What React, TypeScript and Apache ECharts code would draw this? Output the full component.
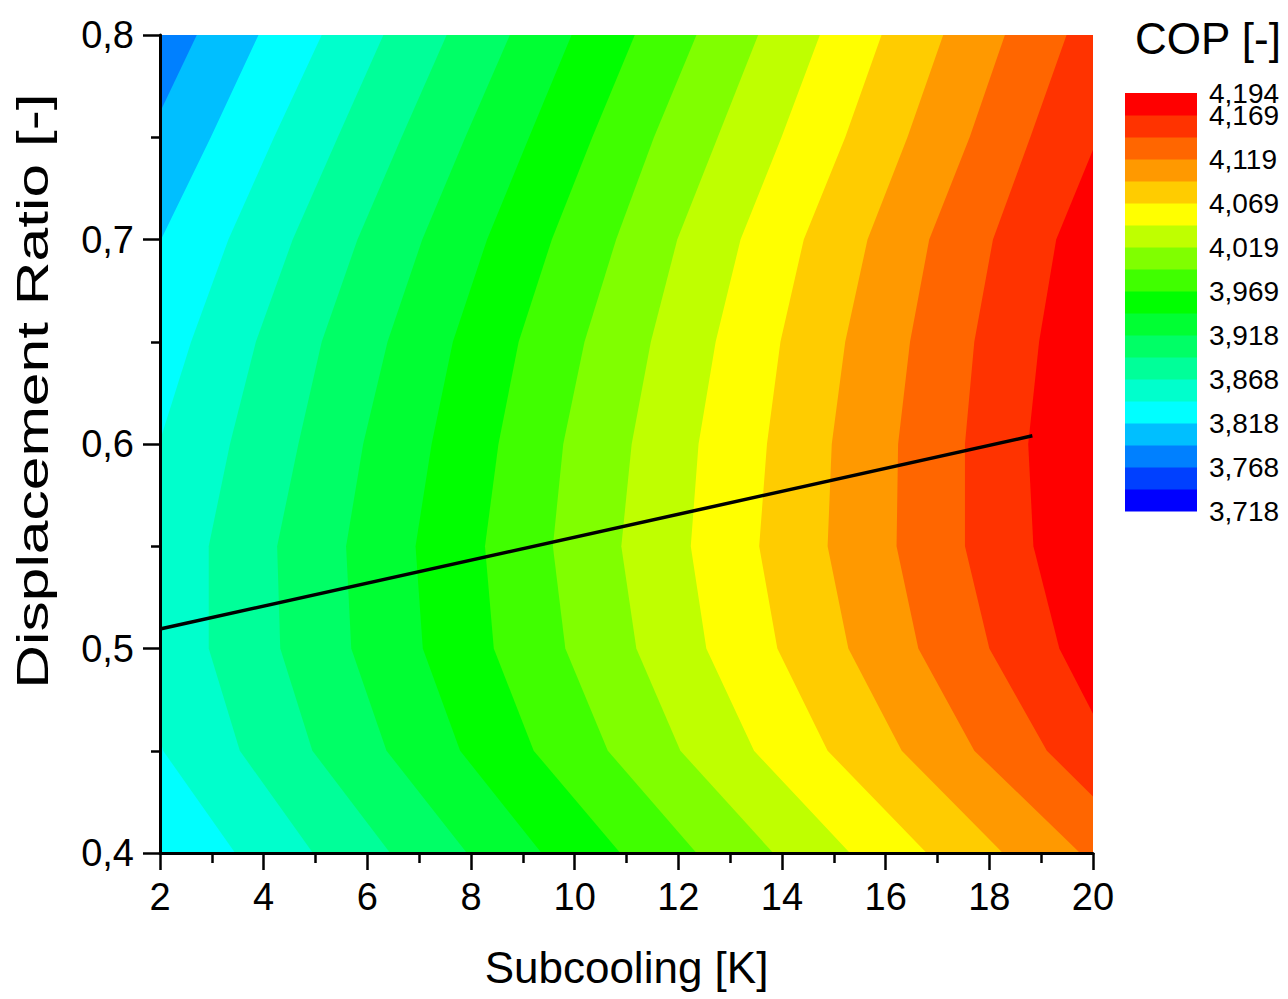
import React, { useEffect, useRef } from 'react';
import * as echarts from 'echarts';

const FONT = '"Liberation Sans", Arial, sans-serif';

// Displacement ratio rows at which the iso-COP lines were read
const rowsY = [0.8, 0.75, 0.7, 0.65, 0.6, 0.55, 0.5, 0.45, 0.4];

// COP contour levels (colour bar boundaries, bottom to top)
const levels = [3.718, 3.743, 3.768, 3.793, 3.818, 3.843, 3.868, 3.893, 3.918, 3.944, 3.969, 3.994, 4.019, 4.044, 4.069, 4.094, 4.119, 4.144, 4.169, 4.194];
const bandColors = ['#0000FF', '#0040FF', '#0080FF', '#00BFFF', '#00FFFF', '#00FFCC', '#00FF99', '#00FF66', '#00FF33', '#00FF00', '#40FF00', '#80FF00', '#BFFF00', '#FFFF00', '#FFCC00', '#FF9900', '#FF6600', '#FF3300', '#FF0000'];
const colorbarLabelIdx = [0, 2, 4, 6, 8, 10, 12, 14, 16, 18];
const colorbarTopIdx = 19;

// Subcooling [K] of each iso-COP line at rowsY (values outside 2..20 lie beyond the frame)
const iso3793 = [2.71, 1.77, 0.94, 0.26, -0.12, -0.32, -0.32, 0.07, 0.84];
const iso3818 = [3.90, 2.98, 2.02, 1.19, 0.75, 0.46, 0.46, 0.46, 1.81];
const iso3843 = [5.12, 4.20, 3.32, 2.60, 1.98, 1.61, 1.58, 2.06, 3.45];
const iso3868 = [6.31, 5.43, 4.56, 3.85, 3.35, 2.94, 2.94, 3.54, 4.95];
const iso3893 = [7.53, 6.66, 5.81, 5.12, 4.67, 4.26, 4.32, 4.94, 6.44];
const iso3918 = [8.75, 7.89, 7.06, 6.39, 5.92, 5.59, 5.69, 6.37, 7.92];
const iso3944 = [9.94, 9.12, 8.31, 7.65, 7.24, 6.93, 7.07, 7.79, 9.36];
const iso3969 = [11.16, 10.34, 9.56, 8.92, 8.53, 8.27, 8.44, 9.21, 10.88];
const iso3994 = [12.35, 11.53, 10.80, 10.19, 9.78, 9.58, 9.82, 10.64, 12.35];
const iso4019 = [13.54, 12.76, 11.98, 11.47, 11.10, 10.90, 11.19, 12.04, 13.83];
const iso4044 = [14.73, 13.99, 13.20, 12.72, 12.39, 12.24, 12.54, 13.46, 15.31];
const iso4069 = [15.92, 15.22, 14.42, 13.97, 13.71, 13.56, 13.91, 14.88, 16.79];
const iso4094 = [17.11, 16.42, 15.65, 15.22, 14.96, 14.88, 15.28, 16.31, 18.26];
const iso4119 = [18.30, 17.62, 16.84, 16.47, 16.24, 16.21, 16.63, 17.71, 19.75];
const iso4144 = [19.49, 18.79, 18.07, 17.71, 17.53, 17.53, 18.00, 19.11, 21.10];
const iso4169 = [20.75, 20.10, 19.29, 18.96, 18.75, 18.85, 19.35, 20.37, 21.87];

// contour k sits at levels[k + 3]; the band to its right gets bandColors[k + 3]
const contours = [iso3793, iso3818, iso3843, iso3868, iso3893, iso3918, iso3944, iso3969, iso3994, iso4019, iso4044, iso4069, iso4094, iso4119, iso4144, iso4169];
const baseBand = 2;

// black line
const lineX = [2, 18.83];
const lineY = [0.5095, 0.604];

const X_MIN = 2, X_MAX = 20, Y_MIN = 0.4, Y_MAX = 0.8;

function clipX(poly: number[][], lo: number, hi: number): number[][] {
  const clip = (pts: number[][], inside: (p: number[]) => boolean, xv: number) => {
    const out: number[][] = [];
    for (let i = 0; i < pts.length; i++) {
      const a = pts[i];
      const b = pts[(i + 1) % pts.length];
      const ia = inside(a), ib = inside(b);
      if (ia) out.push(a);
      if (ia !== ib) out.push([xv, a[1] + ((b[1] - a[1]) * (xv - a[0])) / (b[0] - a[0])]);
    }
    return out;
  };
  let p = clip(poly, (q) => q[0] >= lo, lo);
  p = clip(p, (q) => q[0] <= hi, hi);
  return p;
}

const fmtComma = (v: number, d: number) => v.toFixed(d).replace('.', ',');

export default function App() {
  const ref = useRef<HTMLDivElement>(null);
  useEffect(() => {
    if (!ref.current) return;
    const chart = echarts.init(ref.current, undefined, { renderer: 'svg' });

    const fieldData = [baseBand, ...contours.map((_, k) => k + 3)].map((b, i) => ({ value: [X_MIN, 0.6, i], band: b }));
    const barData = bandColors.map((_, i) => ({ value: [0, i + 0.5, i] }));

    const cbLabel = {
      fontSize: 28,
      color: '#000',
      fontFamily: FONT,
      margin: 12,
    };

    const option: any = {
      animation: false,
      backgroundColor: '#ffffff',
      title: {
        text: 'COP [-]',
        left: 1130,
        top: 11,
        textStyle: { fontSize: 44, fontWeight: 'normal', fontFamily: FONT, color: '#000' },
      },
      grid: [
        { left: 160, top: 35, width: 933, height: 818, containLabel: false },
        { left: 1125, top: 93, width: 72, height: 418, containLabel: false },
      ],
      xAxis: [
        {
          gridIndex: 0,
          type: 'value',
          min: X_MIN,
          max: X_MAX,
          interval: 2,
          z: 5,
          axisLine: { show: true, onZero: false, lineStyle: { color: '#000', width: 3 } },
          axisTick: { show: true, length: 17, lineStyle: { color: '#000', width: 2.5 } },
          minorTick: { show: true, splitNumber: 2, length: 10, lineStyle: { color: '#000', width: 2.5 } },
          splitLine: { show: false },
          minorSplitLine: { show: false },
          axisLabel: { fontSize: 38, color: '#000', fontFamily: FONT, margin: 25, showMinLabel: true, showMaxLabel: true },
          name: 'Subcooling [K]',
          nameLocation: 'middle',
          nameGap: 92,
          nameTextStyle: { fontSize: 44, color: '#000', fontFamily: FONT },
        },
        { gridIndex: 1, type: 'value', min: 0, max: 1, show: false },
      ],
      yAxis: [
        {
          gridIndex: 0,
          type: 'value',
          min: Y_MIN,
          max: Y_MAX,
          interval: 0.1,
          z: 5,
          axisLine: { show: true, onZero: false, lineStyle: { color: '#000', width: 3 } },
          axisTick: { show: true, length: 17, lineStyle: { color: '#000', width: 2.5 } },
          minorTick: { show: true, splitNumber: 2, length: 9, lineStyle: { color: '#000', width: 2.5 } },
          splitLine: { show: false },
          minorSplitLine: { show: false },
          axisLabel: { fontSize: 38, color: '#000', fontFamily: FONT, margin: 26, showMinLabel: true, showMaxLabel: true, formatter: (v: number) => fmtComma(v, 1) },
        },
        {
          gridIndex: 1,
          type: 'value',
          min: 0,
          max: levels.length - 1,
          interval: 1,
          position: 'right',
          axisLine: { show: false },
          axisTick: { show: false },
          splitLine: { show: false },
          axisLabel: {
            ...cbLabel,
            padding: [3, 0, 0, 0],
            formatter: (v: number) => {
              const k = Math.round(v);
              return colorbarLabelIdx.indexOf(k) >= 0 ? fmtComma(levels[k], 3) : '';
            },
          },
        },
        {
          gridIndex: 1,
          type: 'value',
          min: 0,
          max: colorbarTopIdx,
          interval: colorbarTopIdx,
          position: 'right',
          axisLine: { show: false },
          axisTick: { show: false },
          splitLine: { show: false },
          axisLabel: {
            ...cbLabel,
            padding: [0, 0, 8, 0],
            showMaxLabel: true,
            formatter: (v: number) => (Math.round(v) === colorbarTopIdx ? fmtComma(levels[colorbarTopIdx], 3) : ''),
          },
        },
      ],
      series: [
        {
          type: 'custom',
          xAxisIndex: 0,
          yAxisIndex: 0,
          z: 2,
          silent: true,
          data: fieldData,
          renderItem: (params: any, api: any) => {
            const i = params.dataIndex;
            const band = fieldData[i].band;
            let poly: number[][];
            if (i === 0) {
              poly = [[X_MIN, Y_MAX], [X_MAX, Y_MAX], [X_MAX, Y_MIN], [X_MIN, Y_MIN]];
            } else {
              const cx = contours[i - 1];
              poly = rowsY.map((y, j) => [cx[j], y]);
              poly.push([X_MAX + 20, Y_MIN], [X_MAX + 20, Y_MAX]);
            }
            poly = clipX(poly, X_MIN, X_MAX);
            if (poly.length < 3) return null;
            return {
              type: 'polygon',
              shape: { points: poly.map((p) => api.coord(p)) },
              style: { fill: bandColors[band] },
            };
          },
        },
        {
          type: 'line',
          xAxisIndex: 0,
          yAxisIndex: 0,
          z: 4,
          showSymbol: false,
          silent: true,
          data: lineX.map((x, i) => [x, lineY[i]]),
          lineStyle: { color: '#000', width: 3.5 },
        },
        {
          type: 'custom',
          xAxisIndex: 1,
          yAxisIndex: 1,
          silent: true,
          data: barData,
          renderItem: (params: any, api: any) => {
            const i = params.dataIndex;
            const p0 = api.coord([0, i + 1]);
            const p1 = api.coord([1, i]);
            return {
              type: 'rect',
              shape: { x: p0[0], y: p0[1], width: p1[0] - p0[0], height: p1[1] - p0[1] + 0.5 },
              style: { fill: bandColors[i] },
            };
          },
        },
      ],
      graphic: [
        {
          type: 'text',
          x: 33,
          y: 391,
          rotation: Math.PI / 2,
          scaleX: 1.376,
          style: {
            text: 'Displacement Ratio [-]',
            fontSize: 44,
            fontFamily: FONT,
            fill: '#000',
            align: 'center',
            verticalAlign: 'middle',
          },
        },
      ],
    };
    chart.setOption(option);
    return () => chart.dispose();
  }, []);
  return <div ref={ref} style={{ position: 'fixed', left: 0, top: 0, width: 1288, height: 999 }} />;
}
